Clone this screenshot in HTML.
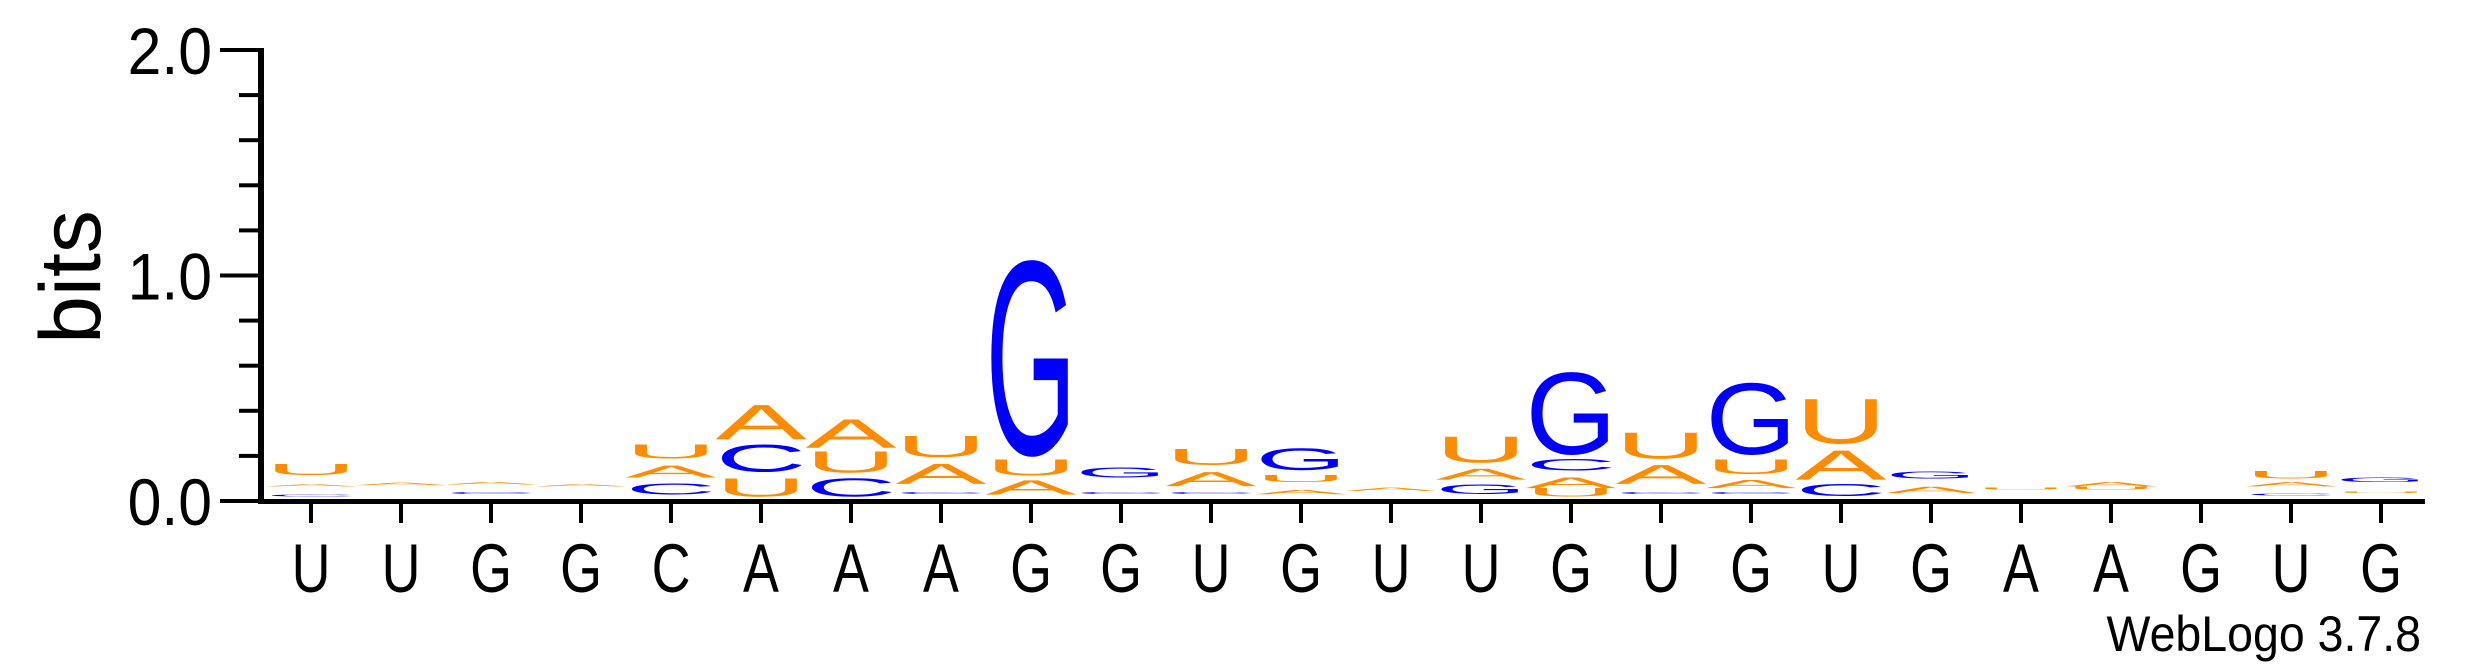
<!DOCTYPE html>
<html><head><meta charset="utf-8"><style>
html,body{margin:0;padding:0;background:#fff;}
svg{display:block;}
text{font-family:"Liberation Sans",sans-serif;}
</style></head><body>
<svg id="logo" width="2475" height="667" viewBox="0 0 2475 667" xmlns="http://www.w3.org/2000/svg">
<g id="yaxis"></g>
<g id="xaxis"></g>
<g id="stacks"></g>
<text transform="translate(100,277) rotate(-90)" text-anchor="middle" font-size="86">bits</text>
<text transform="translate(2421,651) scale(0.93,1)" text-anchor="end" font-size="50">WebLogo 3.7.8</text>
</svg>
<script>
const labels = ['U','U','G','G','C','A','A','A','G','G','U','G','U','U','G','U','G','U','G','A','A','G','U','G'];
const yTicks = [0, 1, 2];
const yTickLabels = ['0.0','1.0','2.0'];
const stackCol0 = [['',0.02],['C',0.01],['',0.035],['A',0.01],['',0.04],['U',0.05]];
const stackCol1 = [['',0.07],['A',0.012]];
const stackCol2 = [['',0.03],['C',0.008],['',0.035],['A',0.012]];
const stackCol3 = [['',0.065],['A',0.01]];
const stackCol4 = [['',0.028],['C',0.05],['',0.026],['A',0.056],['',0.028],['U',0.065]];
const stackCol5 = [['',0.019],['U',0.085],['',0.026],['C',0.125],['',0.019],['A',0.16]];
const stackCol6 = [['',0.019],['C',0.085],['',0.023],['U',0.1],['',0.009],['A',0.133]];
const stackCol7 = [['',0.03],['C',0.01],['',0.036],['A',0.094],['',0.025],['U',0.098]];
const stackCol8 = [['',0.028],['A',0.067],['',0.018],['U',0.076],['',0.019],['G',0.898]];
const stackCol9 = [['',0.03],['C',0.01],['',0.064],['G',0.047]];
const stackCol10 = [['',0.03],['C',0.01],['',0.026],['A',0.066],['',0.028],['U',0.076]];
const stackCol11 = [['',0.03],['A',0.02],['',0.035],['U',0.034],['',0.019],['G',0.102]];
const stackCol12 = [['',0.045],['A',0.015]];
const stackCol13 = [['',0.032],['G',0.044],['',0.019],['A',0.051],['',0.024],['U',0.119]];
const stackCol14 = [['',0.019],['U',0.038],['A',0.05],['',0.029],['C',0.053],['',0.019],['G',0.378]];
const stackCol15 = [['',0.03],['C',0.01],['',0.036],['A',0.088],['',0.025],['U',0.119]];
const stackCol16 = [['',0.03],['C',0.008],['',0.019],['A',0.038],['',0.024],['U',0.07],['',0.019],['G',0.331]];
const stackCol17 = [['',0.023],['C',0.056],['',0.016],['A',0.136],['',0.024],['U',0.208]];
const stackCol18 = [['',0.035],['A',0.03],['',0.035],['G',0.032]];
const stackCol19 = [['',0.05],['U',0.01]];
const stackCol20 = [['',0.05],['U',0.015],['A',0.02]];
const stackCol21 = [];
const stackCol22 = [['',0.025],['C',0.01],['',0.03],['A',0.02],['',0.015],['U',0.036]];
const stackCol23 = [['',0.035],['U',0.005],['',0.045],['G',0.02]];
const stacks = [stackCol0,stackCol1,stackCol2,stackCol3,stackCol4,stackCol5,stackCol6,stackCol7,stackCol8,stackCol9,stackCol10,stackCol11,stackCol12,stackCol13,stackCol14,stackCol15,stackCol16,stackCol17,stackCol18,stackCol19,stackCol20,stackCol21,stackCol22,stackCol23];

const NS='http://www.w3.org/2000/svg';
const Y0=501, PX_PER_BIT=225.5, X0=311, DX=90, GLYPH_W=82;
const yScale=v=>Y0-v*PX_PER_BIT;
const xScale=i=>X0+i*DX;
const colors={A:'#FF8C00',U:'#FF8C00',C:'#0000FF',G:'#0000FF'};
const adv={A:66.7,C:72.2,G:77.8,U:72.2};
function mk(tag,attrs,parent){const e=document.createElementNS(NS,tag);for(const k in attrs)e.setAttribute(k,attrs[k]);parent.appendChild(e);return e;}

const ya=document.getElementById('yaxis');
const yl=mk('rect',{x:258,y:yScale(2)-2,width:6,height:Y0-yScale(2)+4,fill:'#000'},ya);


for(let k=0;k<=10;k++){
  const v=k*0.2, major=(k%5===0);
  const t=mk('rect',{x:major?220:239,y:yScale(v)-2,width:major?44:25,height:4,fill:'#000'},ya);
  
  
}
yTicks.forEach((v,i)=>{
  const t=mk('text',{transform:`translate(212,${yScale(v)+24}) scale(0.92,1)`,'text-anchor':'end','font-size':66},ya);
  t.textContent=yTickLabels[i];
  
  
});

const xa=document.getElementById('xaxis');
const xl=mk('rect',{x:258,y:Y0-2,width:2425-258,height:5,fill:'#000'},xa);


labels.forEach((l,i)=>{
  const t=mk('rect',{x:xScale(i)-2,y:Y0,width:4,height:22,fill:'#000'},xa);
  
  
  const tx=mk('text',{transform:`translate(${xScale(i)},592) scale(0.78,1)`,'text-anchor':'middle','font-size':69},xa);
  tx.textContent=l;
  
  
});

const sg=document.getElementById('stacks');
stacks.forEach((st,i)=>{
  let base=0;
  st.forEach(([L,h])=>{
    if(L){
      const bottom=yScale(base), hp=h*PX_PER_BIT;
      const sx=GLYPH_W/(adv[L]*0.9), sy=hp/72.9;
      const t=mk('text',{transform:`translate(${xScale(i)},${bottom}) scale(${sx},${sy})`,'text-anchor':'middle','font-size':100,fill:colors[L]},sg);
      t.textContent=L;
      
      
    }
    base+=h;
  });
});
</script>
</body></html>
